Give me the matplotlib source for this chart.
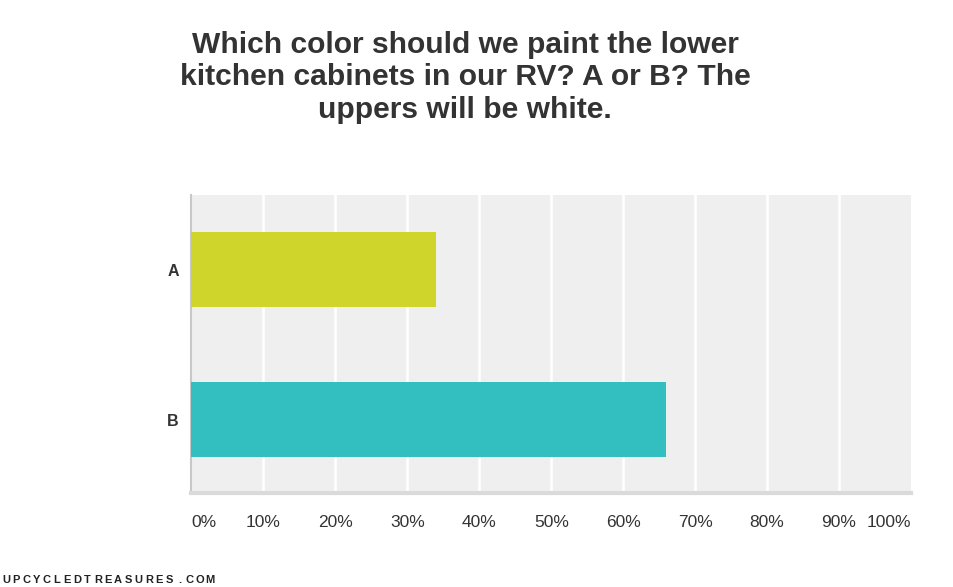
import matplotlib
matplotlib.use("Agg")
import matplotlib.pyplot as plt

# ---- data ----
categories = ["A", "B"]
values = [34, 66]          # percent of responses
bar_colors = ["#CFD52A", "#33BFBF"]
tick_values = [0, 10, 20, 30, 40, 50, 60, 70, 80, 90, 100]
tick_labels = [f"{t}%" for t in tick_values]
title = ("Which color should we paint the lower\n"
         "kitchen cabinets in our RV? A or B? The\n"
         "uppers will be white.")
watermark = "UPCYCLEDTREASURES.COM"

plt.rcParams.update({
    "font.family": ["Liberation Sans", "DejaVu Sans"],
})

fig = plt.figure(figsize=(9.54, 5.87), dpi=100)
fig.patch.set_facecolor("white")

W, H = 954, 587
ax = fig.add_axes([191.5 / W, 1 - 493 / H, (911 - 191.5) / W, (493 - 195) / H])
ax.set_facecolor("#EFEFEF")

y_pos = list(range(len(categories)))
ax.barh(y_pos, values, height=0.5, color=bar_colors, zorder=3)

ax.set_xlim(0, 100)
ax.set_ylim(1.49, -0.5)

# ---- grid ----
for t in tick_values[1:-1]:
    ax.axvline(t, color="white", linewidth=1.8, zorder=1)

# ---- spines ----
for s in ("top", "right"):
    ax.spines[s].set_visible(False)
ax.spines["left"].set_color("#C8C8C8")
ax.spines["left"].set_linewidth(1.5)
ax.spines["bottom"].set_color("#DADADA")
ax.spines["bottom"].set_linewidth(3)

# ---- ticks ----
ax.set_yticks(y_pos)
ax.set_yticklabels(categories, fontsize=11.5, fontweight="bold", color="#333333")
ax.tick_params(axis="y", length=0, pad=9)
ax.set_xticks(tick_values)
ax.set_xticklabels(tick_labels, fontsize=12.5, color="#333333")
ax.tick_params(axis="x", length=0, pad=16)
xt = ax.get_xticklabels()
xt[0].set_ha("left")
xt[-1].set_ha("right")

# ---- title ----
fig.text(465 / W, 1 - 31 / H, title, ha="center", va="top",
         fontsize=21.6, fontweight="bold", color="#333333", linespacing=1.2)

# ---- watermark, letter-spaced ----
x0, step = 6, 10.2
for i, ch in enumerate(watermark):
    fig.text((x0 + i * step) / W, 1 - 580 / H, ch, ha="center", va="center",
             fontsize=8, fontweight="bold", color="#222222")

fig.savefig("out.png", dpi=100, facecolor="white")
